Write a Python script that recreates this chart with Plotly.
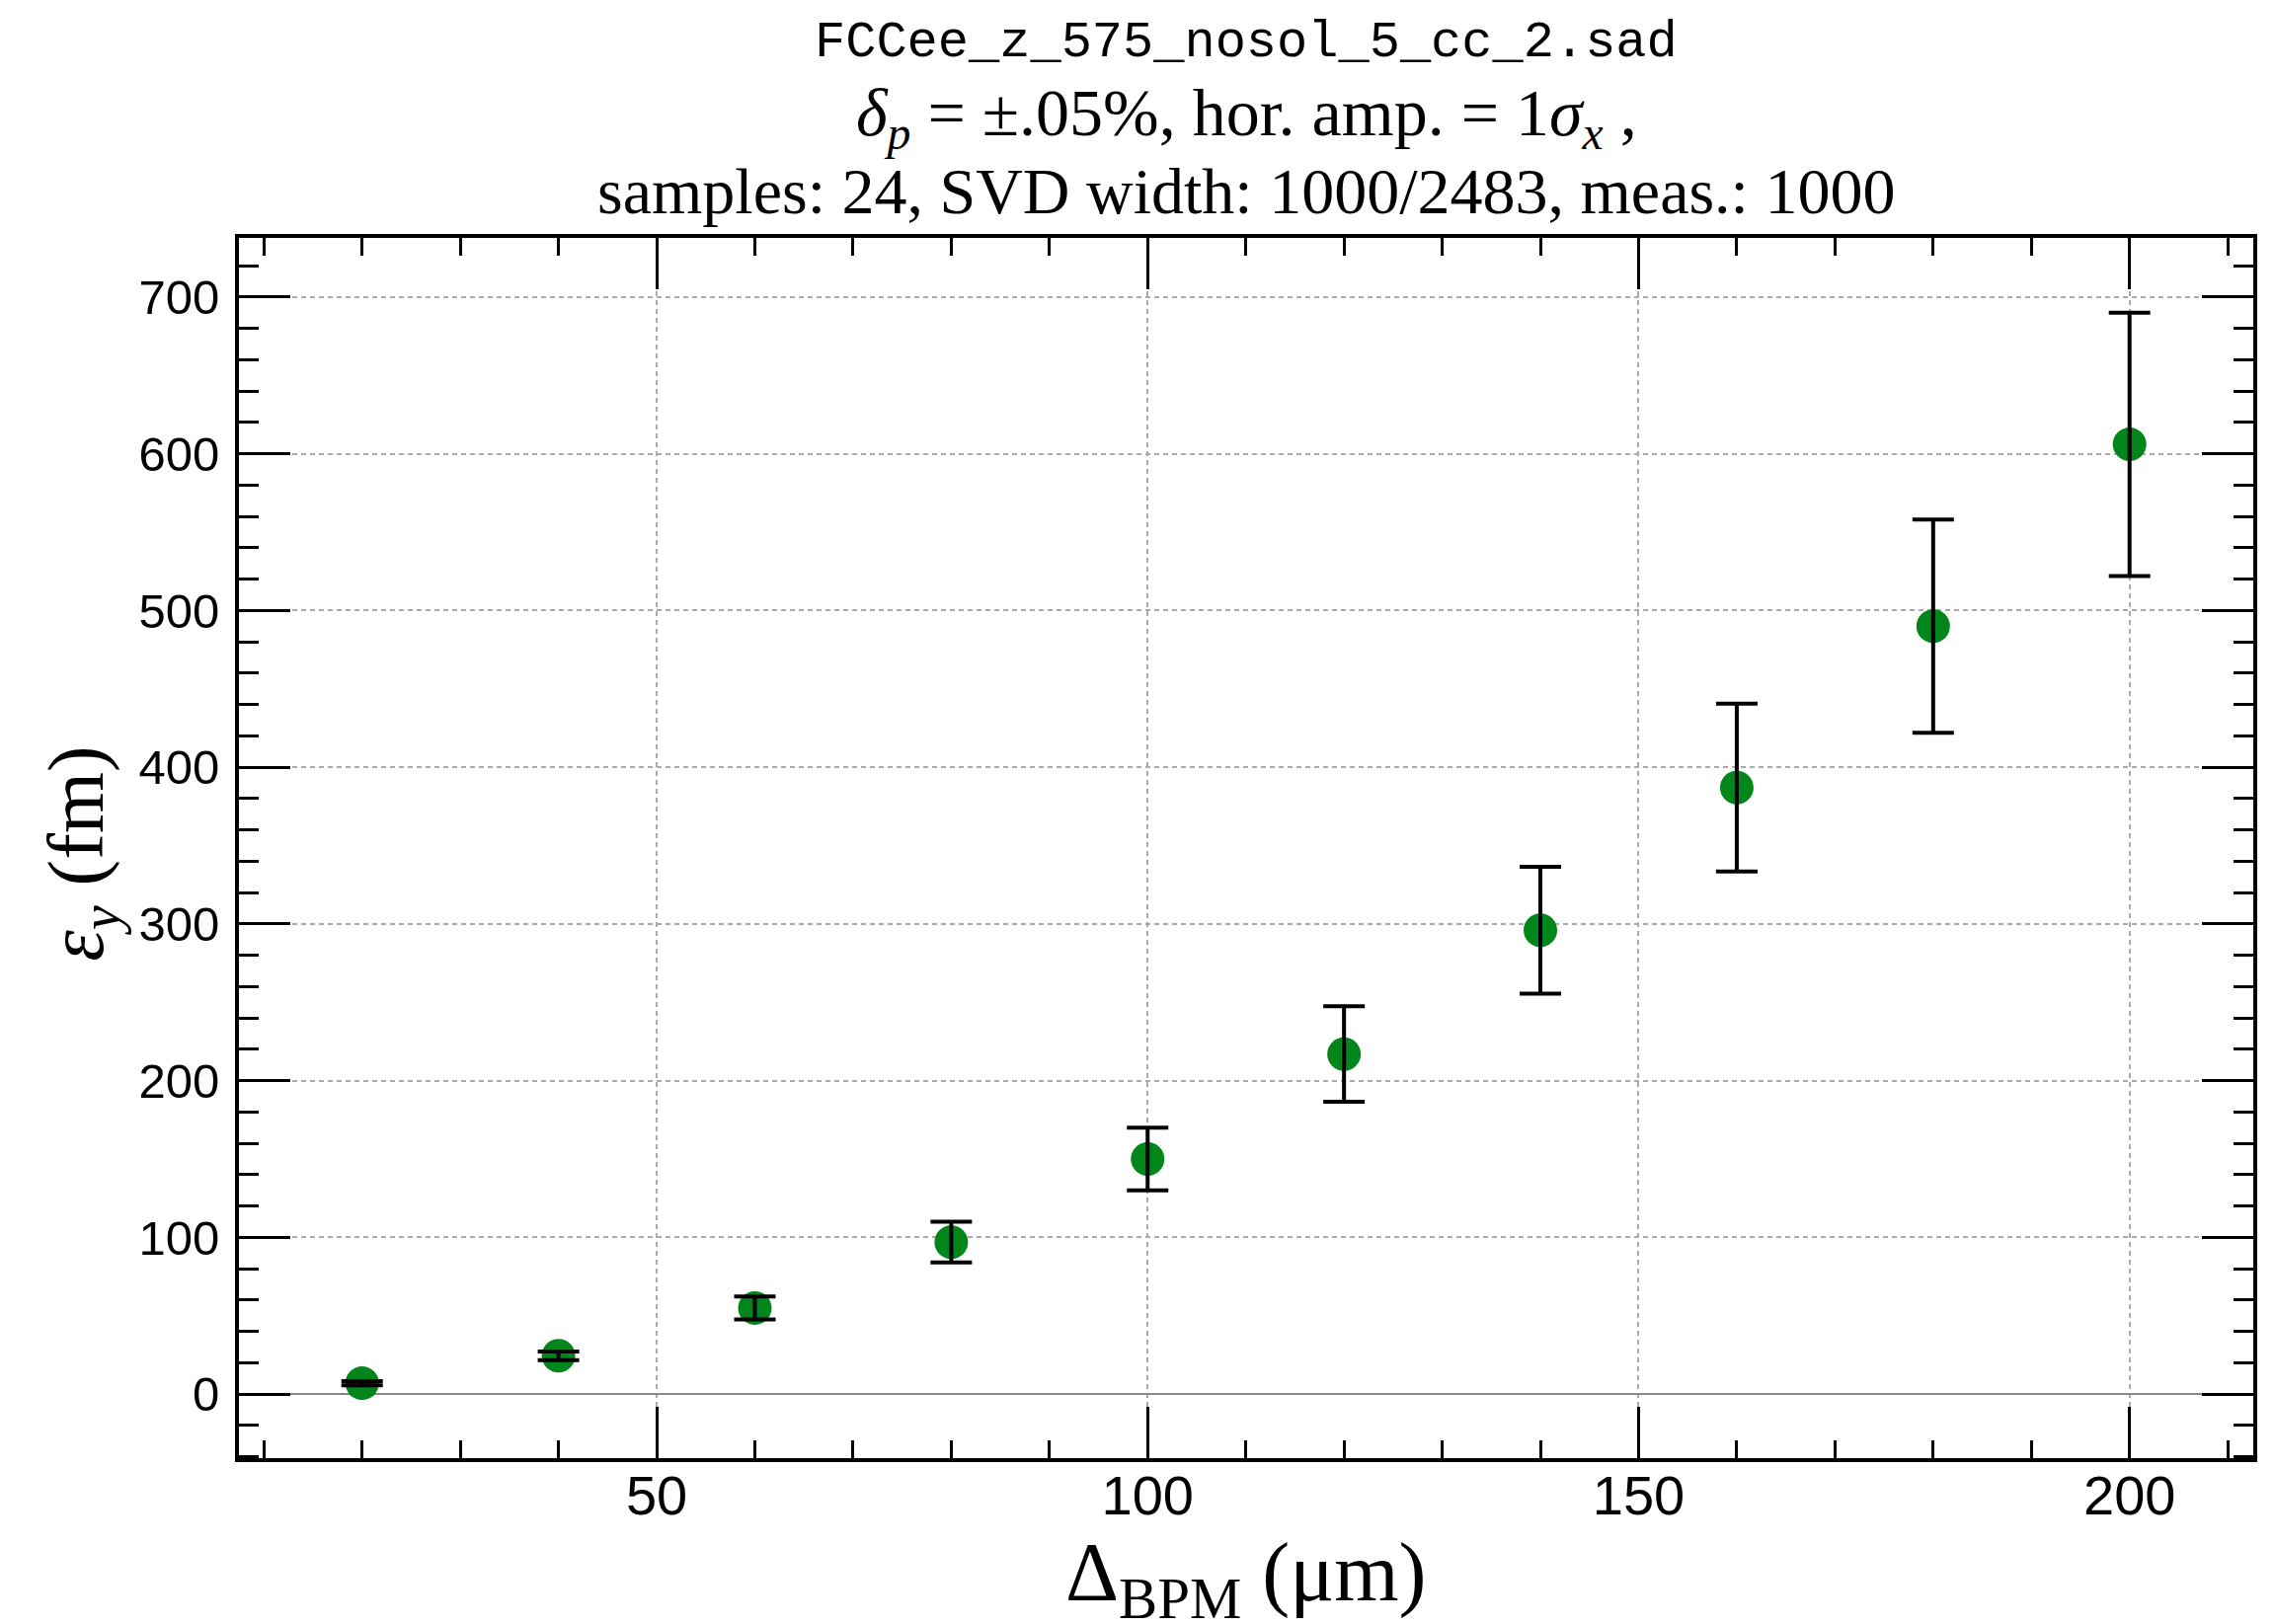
import plotly.graph_objects as go

# Data
delta_bpm = [20, 40, 60, 80, 100, 120, 140, 160, 180, 200]
eps_y = [7, 24.5, 55, 97, 150, 217, 296, 387, 490, 606]
eps_err = [1.3, 2.8, 7.3, 13, 20, 30.5, 40.5, 53.5, 68, 84]

x_ticks = [50, 100, 150, 200]
y_ticks = [0, 100, 200, 300, 400, 500, 600, 700]

title_l1 = "FCCee_z_575_nosol_5_cc_2.sad"
title_l2 = "<i>δ</i><sub><i>p</i></sub> = ±.05%, hor. amp. = 1<i>σ</i><sub><i>x</i></sub> ,"
title_l3 = "samples: 24, SVD width: 1000/2483, meas.: 1000"
x_title = "Δ<sub>BPM</sub> (μm)"
y_title = "<i>ε</i><sub><i>y</i></sub> (fm)"

green = "#00861A"

fig = go.Figure()
fig.add_trace(go.Scatter(
    x=delta_bpm, y=eps_y, mode="markers",
    marker=dict(size=34, color=green, line=dict(width=0)),
    showlegend=False, hoverinfo="skip",
))
fig.add_trace(go.Scatter(
    x=delta_bpm, y=eps_y, mode="markers",
    marker=dict(size=34, color=green, opacity=0),
    error_y=dict(type="data", array=eps_err, visible=True,
                 color="black", thickness=4, width=21),
    showlegend=False,
))

serif = "Liberation Serif"
sans = "Liberation Sans"

axis_common = dict(
    showline=True, linecolor="black", linewidth=4, mirror="allticks",
    ticks="inside", tickcolor="black", tickwidth=3, ticklen=52,
    showgrid=True, gridcolor="#aaaaaa", gridwidth=2, griddash="5px,4px",
)

fig.update_xaxes(
    range=[7.46, 212.6], tickmode="array", tickvals=x_ticks,
    ticktext=[str(v) for v in x_ticks],
    tickfont=dict(family=sans, size=56, color="black"),
    ticklabelstandoff=-14,
    minor=dict(dtick=10, tick0=0, ticks="inside", ticklen=18, tickwidth=3,
               tickcolor="black", showgrid=False),
    zeroline=False,
    **axis_common,
)
fig.update_yaxes(
    range=[-40.8, 737.7], tickmode="array", tickvals=y_ticks,
    ticktext=[str(v) for v in y_ticks],
    tickfont=dict(family=sans, size=49, color="black"),
    ticklabelstandoff=6,
    minor=dict(dtick=20, tick0=0, ticks="inside", ticklen=20, tickwidth=3,
               tickcolor="black", showgrid=False),
    zeroline=True, zerolinecolor="#888888", zerolinewidth=2,
    **axis_common,
)

annotations = [
    dict(text=title_l1, x=0.5, y=1.160, xref="paper", yref="paper",
         xanchor="center", yanchor="middle", showarrow=False,
         font=dict(family="Liberation Mono", size=52, color="black")),
    dict(text=title_l2, x=0.5, y=1.0995, xref="paper", yref="paper",
         xanchor="center", yanchor="middle", showarrow=False,
         font=dict(family=serif, size=68, color="black")),
    dict(text=title_l3, x=0.5, y=1.0385, xref="paper", yref="paper",
         xanchor="center", yanchor="middle", showarrow=False,
         font=dict(family=serif, size=66, color="black")),
    dict(text=x_title, x=0.5, y=-0.099, xref="paper", yref="paper",
         xanchor="center", yanchor="middle", showarrow=False,
         font=dict(family=serif, size=84, color="black")),
    dict(text=y_title, x=-0.078, y=0.496, xref="paper", yref="paper",
         xanchor="center", yanchor="middle", showarrow=False, textangle=-90,
         font=dict(family=serif, size=80, color="black")),
]

fig.update_layout(
    width=2304, height=1645,
    margin=dict(l=234, r=30, t=233, b=176, pad=0),
    paper_bgcolor="white", plot_bgcolor="white",
    annotations=annotations,
    showlegend=False,
)

fig.write_html("out.html")
